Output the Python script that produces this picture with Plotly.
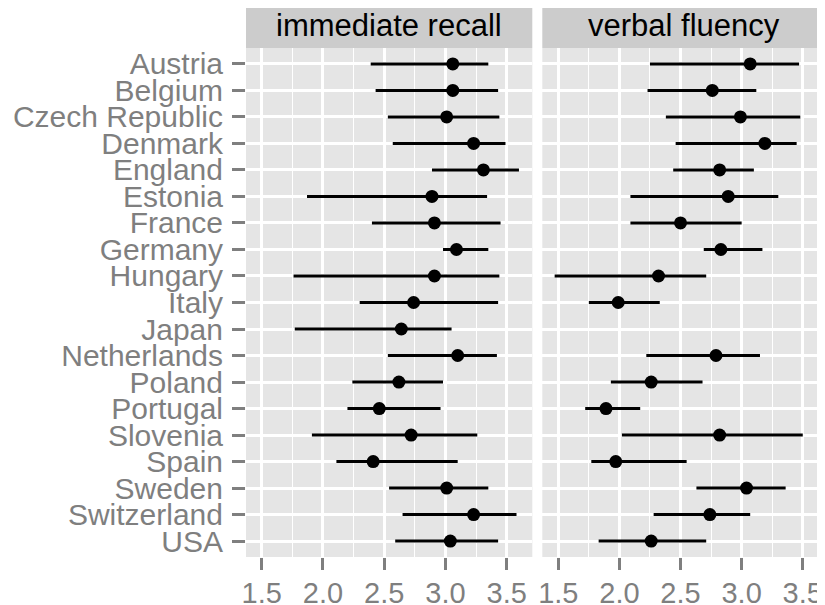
import plotly.graph_objects as go

countries = ["Austria", "Belgium", "Czech Republic", "Denmark", "England", "Estonia",
             "France", "Germany", "Hungary", "Italy", "Japan", "Netherlands", "Poland",
             "Portugal", "Slovenia", "Spain", "Sweden", "Switzerland", "USA"]

recall_mean = [3.06, 3.06, 3.01, 3.23, 3.31, 2.89, 2.91, 3.09, 2.91, 2.74, 2.64, 3.10,
               2.62, 2.46, 2.72, 2.41, 3.01, 3.23, 3.04]
recall_lo = [2.39, 2.43, 2.53, 2.57, 2.89, 1.87, 2.40, 2.98, 1.76, 2.30, 1.77, 2.53,
             2.24, 2.20, 1.91, 2.11, 2.54, 2.65, 2.59]
recall_hi = [3.35, 3.43, 3.44, 3.49, 3.60, 3.34, 3.45, 3.35, 3.44, 3.43, 3.05, 3.42,
             2.98, 2.96, 3.26, 3.10, 3.35, 3.58, 3.43]

fluency_mean = [3.07, 2.76, 2.99, 3.19, 2.82, 2.89, 2.50, 2.83, 2.32, 1.99, None, 2.79,
                2.26, 1.89, 2.82, 1.97, 3.04, 2.74, 2.26]
fluency_lo = [2.25, 2.23, 2.38, 2.46, 2.44, 2.09, 2.09, 2.69, 1.47, 1.75, None, 2.22,
              1.93, 1.72, 2.02, 1.77, 2.63, 2.28, 1.83]
fluency_hi = [3.47, 3.12, 3.48, 3.45, 3.10, 3.30, 3.00, 3.17, 2.71, 2.33, None, 3.15,
              2.68, 2.17, 3.50, 2.55, 3.36, 3.07, 2.71]

facet_titles = ["immediate recall", "verbal fluency"]
x_ticks = [1.5, 2.0, 2.5, 3.0, 3.5]
x_tick_text = ["1.5", "2.0", "2.5", "3.0", "3.5"]

FONT = "Liberation Sans, Arial, Helvetica, sans-serif"
GREY = "#7F7F7F"


def err(m, lo, hi):
    plus = [None if v is None else h - v for v, h in zip(m, hi)]
    minus = [None if v is None else v - l for v, l in zip(m, lo)]
    return plus, minus


fig = go.Figure()
for i, (m, lo, hi) in enumerate([(recall_mean, recall_lo, recall_hi),
                                 (fluency_mean, fluency_lo, fluency_hi)]):
    plus, minus = err(m, lo, hi)
    xa = "x" if i == 0 else "x2"
    ya = "y" if i == 0 else "y2"
    fig.add_trace(go.Scatter(
        x=m, y=countries, mode="markers", xaxis=xa, yaxis=ya,
        marker=dict(color="black", size=13, line=dict(width=0)),
        error_x=dict(type="data", symmetric=False, array=plus, arrayminus=minus,
                     color="black", thickness=3, width=0),
        showlegend=False, cliponaxis=False))

# page body has an 8px margin, so the figure is offset by (8, 8) in the window
OFF = 8
W, H = 825 - OFF, 605 - OFF
ml, mr = 246 - OFF, 0
mt = 48.3 - OFF
mb = H - (556.7 - OFF)
pw = W - ml - mr
d1 = (0, (532.3 - 246) / pw)
d2 = ((542.3 - 246) / pw, 1)

xcommon = dict(
    tickmode="array", tickvals=x_ticks, ticktext=x_tick_text,
    ticks="outside", ticklen=12, tickwidth=2.5, tickcolor=GREY,
    tickfont=dict(family=FONT, size=29, color=GREY),
    ticklabelstandoff=-2,
    showgrid=True, gridcolor="white", gridwidth=2.6,
    zeroline=False, showline=False, automargin=False,
    minor=dict(tickmode="linear", tick0=1.75, dtick=0.5, showgrid=True,
               gridcolor="white", gridwidth=1.2, ticks=""),
)
fig.update_layout(
    width=W, height=H,
    margin=dict(l=ml, r=mr, t=mt, b=mb, pad=0, autoexpand=False),
    paper_bgcolor="white", plot_bgcolor="white",
    xaxis=dict(domain=d1, range=[1.372, 3.709], anchor="y", **xcommon),
    xaxis2=dict(domain=d2, range=[1.369, 3.682], anchor="y2", **xcommon),
    yaxis=dict(categoryorder="array", categoryarray=countries[::-1],
               tickmode="array", tickvals=countries, ticktext=countries,
               range=[-0.6, 18.6], ticks="outside", ticklen=13, tickwidth=2.5,
               tickcolor=GREY, tickfont=dict(family=FONT, size=30, color=GREY),
               ticklabelstandoff=3,
               showgrid=True, gridcolor="white", gridwidth=2.6, zeroline=False,
               showline=False, automargin=False, anchor="x"),
    yaxis2=dict(matches="y", anchor="x2", categoryorder="array",
                categoryarray=countries[::-1], range=[-0.6, 18.6],
                tickmode="array", tickvals=countries,
                showticklabels=False, ticks="", showgrid=True, gridcolor="white",
                gridwidth=2.6, zeroline=False, showline=False, automargin=False),
)

strip_h = 44.3 / (H - mt - mb)
for i, (xd, yd) in enumerate([("x domain", "y domain"), ("x2 domain", "y2 domain")]):
    fig.add_shape(type="rect", xref=xd, yref=yd, x0=0, x1=1, y0=0, y1=1,
                  fillcolor="#E5E5E5", line=dict(width=0), layer="below")
    fig.add_shape(type="rect", xref=xd, yref="paper", x0=0, x1=1, y0=1,
                  y1=1 + strip_h, fillcolor="#CCCCCC", line=dict(width=0),
                  layer="below")
    fig.add_annotation(xref=xd, yref="paper", x=0.5, y=1 + strip_h / 2,
                       text=facet_titles[i], showarrow=False,
                       font=dict(family=FONT, size=31, color="black"),
                       xanchor="center", yanchor="middle")

fig.write_html("out.html")
